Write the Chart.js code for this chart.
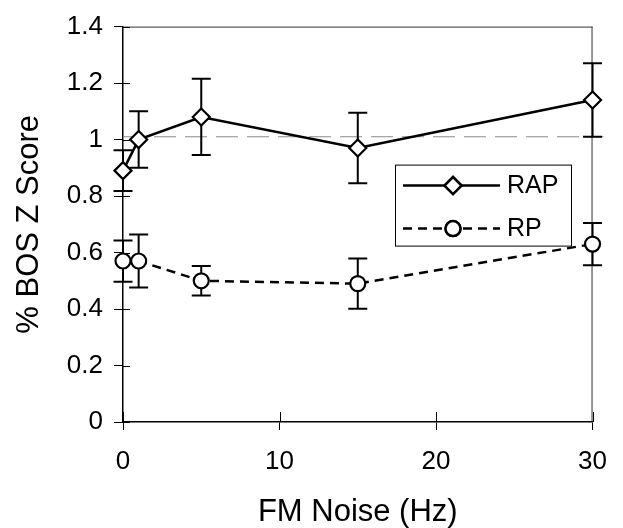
<!DOCTYPE html>
<html>
<head>
<meta charset="utf-8">
<script src="https://cdn.jsdelivr.net/npm/chart.js@4"></script>
<style>
  html, body { margin: 0; padding: 0; background: #fff; }
  canvas { display: block; }
</style>
</head>
<body>
<canvas id="bosChart" width="623" height="528"></canvas>
<script>
// FM noise conditions (Hz)
const noiseHz = [0, 1, 5, 15, 30];

// RAP series: mean and error
const rapMean = [0.89, 1.00, 1.08, 0.97, 1.14];
const rapErr  = [0.072, 0.10, 0.135, 0.125, 0.13];

// RP series: mean and error
const rpMean = [0.57, 0.57, 0.50, 0.49, 0.63];
const rpErr  = [0.073, 0.094, 0.052, 0.089, 0.075];

const yTicks = [0, 0.2, 0.4, 0.6, 0.8, 1, 1.2, 1.4];
const yTickLabels = ['0', '0.2', '0.4', '0.6', '0.8', '1', '1.2', '1.4'];
const xTicks = [0, 10, 20, 30];
const xTickLabels = ['0', '10', '20', '30'];

// dashed reference level
const refLevel = 1.01;
const refSpan = [0, 30.7];

const FONT = "'Liberation Sans', Arial, Helvetica, sans-serif";

const toPoints = (xs, ys) => xs.map((x, i) => ({ x: x, y: ys[i] }));

// error bars under the markers
const errorBars = {
    id: 'errorBars',
    beforeDatasetsDraw(chart) {
        const { ctx, scales: { x, y } } = chart;
        ctx.save();
        ctx.strokeStyle = '#000';
        ctx.lineWidth = 2;
        chart.data.datasets.forEach(ds => {
            ds.data.forEach((p, i) => {
                const px = x.getPixelForValue(p.x);
                const top = y.getPixelForValue(p.y + ds.errors[i]);
                const bot = y.getPixelForValue(p.y - ds.errors[i]);
                ctx.beginPath();
                ctx.moveTo(px, top); ctx.lineTo(px, bot);
                ctx.moveTo(px - 9.5, top); ctx.lineTo(px + 9.5, top);
                ctx.moveTo(px - 9.5, bot); ctx.lineTo(px + 9.5, bot);
                ctx.stroke();
            });
        });
        ctx.restore();
    }
};

// frame, inner tick marks and the dashed reference line
const frame = {
    id: 'frame',
    beforeDatasetsDraw(chart) {
        const { ctx, chartArea: a, scales: { x, y } } = chart;
        ctx.save();
        ctx.strokeStyle = '#333';
        ctx.lineWidth = 1;
        ctx.beginPath();
        ctx.moveTo(a.left, a.top + 0.5); ctx.lineTo(a.right, a.top + 0.5);
        ctx.moveTo(a.right - 0.5, a.top); ctx.lineTo(a.right - 0.5, a.bottom);
        ctx.stroke();

        ctx.strokeStyle = '#000';
        ctx.beginPath();
        yTicks.forEach(v => {
            const py = Math.round(y.getPixelForValue(v)) + 0.5;
            ctx.moveTo(a.left, py); ctx.lineTo(a.left + 7, py);
        });
        xTicks.forEach(v => {
            const px = Math.round(x.getPixelForValue(v)) + 0.5;
            ctx.moveTo(px, a.bottom); ctx.lineTo(px, a.bottom - 10);
        });
        ctx.stroke();

        const ry = y.getPixelForValue(refLevel);
        ctx.strokeStyle = '#8a8a8a';
        ctx.lineWidth = 1.2;
        ctx.setLineDash([22, 9]);
        ctx.beginPath();
        ctx.moveTo(x.getPixelForValue(refSpan[0]), ry);
        ctx.lineTo(x.getPixelForValue(refSpan[1]), ry);
        ctx.stroke();
        ctx.restore();
    }
};

// boxed legend: line sample with marker, then the label
const boxLegend = {
    id: 'boxLegend',
    afterDraw(chart) {
        const { ctx, chartArea: a } = chart;
        const left = a.left + 272, top = a.top + 138;
        const w = 176, h = 81;
        ctx.save();
        ctx.strokeStyle = '#000';
        ctx.lineWidth = 1;
        ctx.strokeRect(left + 0.5, top + 0.5, w, h);
        chart.data.datasets.forEach((ds, i) => {
            const cy = top + 21 + i * 43;
            ctx.strokeStyle = '#000';
            ctx.lineWidth = ds.borderWidth;
            ctx.setLineDash(ds.borderDash || []);
            ctx.beginPath();
            ctx.moveTo(left + 8, cy); ctx.lineTo(left + 105, cy);
            ctx.stroke();
            ctx.setLineDash([]);
            Chart.helpers.drawPoint(ctx, {
                pointStyle: ds.pointStyle,
                radius: ds.pointRadius,
                borderWidth: ds.pointBorderWidth,
                rotation: 0
            }, left + 58, cy);
            ctx.fillStyle = '#fff';
            ctx.fill();
            ctx.stroke();
            ctx.fillStyle = '#000';
            ctx.font = '25px ' + FONT;
            ctx.textBaseline = 'middle';
            ctx.fillText(ds.label, left + 112, cy + 1);
        });
        ctx.restore();
    }
};

new Chart(document.getElementById('bosChart'), {
    type: 'line',
    data: {
        datasets: [{
            label: 'RAP',
            data: toPoints(noiseHz, rapMean),
            errors: rapErr,
            borderColor: '#000',
            borderWidth: 2.5,
            pointStyle: 'rectRot',
            pointRadius: 8.5,
            pointBorderWidth: 2.2,
            pointBackgroundColor: '#fff',
            pointBorderColor: '#000',
            tension: 0,
            clip: false
        }, {
            label: 'RP',
            data: toPoints(noiseHz, rpMean),
            errors: rpErr,
            borderColor: '#000',
            borderWidth: 2.5,
            borderDash: [9, 6],
            pointStyle: 'circle',
            pointRadius: 7.5,
            pointBorderWidth: 2.2,
            pointBackgroundColor: '#fff',
            pointBorderColor: '#000',
            tension: 0,
            clip: false
        }]
    },
    options: {
        responsive: false,
        animation: false,
        events: [],
        layout: { padding: { top: 22, right: 27, left: 0, bottom: 0 } },
        plugins: { legend: { display: false }, tooltip: { enabled: false } },
        scales: {
            x: {
                type: 'linear',
                min: 0,
                max: 30,
                afterFit: s => { s.height = 106; },
                afterBuildTicks: s => { s.ticks = xTicks.map(v => ({ value: v })); },
                grid: { drawOnChartArea: false, tickLength: 8, color: '#000' },
                border: { color: '#000', width: 1.5 },
                ticks: {
                    color: '#000', padding: 16, maxRotation: 0,
                    font: { family: FONT, size: 26 },
                    callback: (v, i) => xTickLabels[i]
                },
                title: {
                    display: true,
                    text: 'FM Noise (Hz)',
                    color: '#000',
                    padding: { top: 0, bottom: 0 },
                    font: { family: FONT, size: 31, lineHeight: 1 }
                }
            },
            y: {
                min: 0,
                max: 1.4,
                afterFit: s => { s.width = 123; },
                afterBuildTicks: s => { s.ticks = yTicks.map(v => ({ value: v })); },
                grid: { drawOnChartArea: false, tickLength: 9, color: '#000' },
                border: { color: '#000', width: 1.5 },
                ticks: {
                    color: '#000', padding: 11,
                    font: { family: FONT, size: 26 },
                    callback: (v, i) => yTickLabels[i]
                },
                title: {
                    display: true,
                    text: '% BOS Z Score',
                    color: '#000',
                    padding: { top: 14, bottom: 0 },
                    font: { family: FONT, size: 31, lineHeight: 1 }
                }
            }
        }
    },
    plugins: [frame, errorBars, boxLegend]
});
</script>
</body>
</html>
